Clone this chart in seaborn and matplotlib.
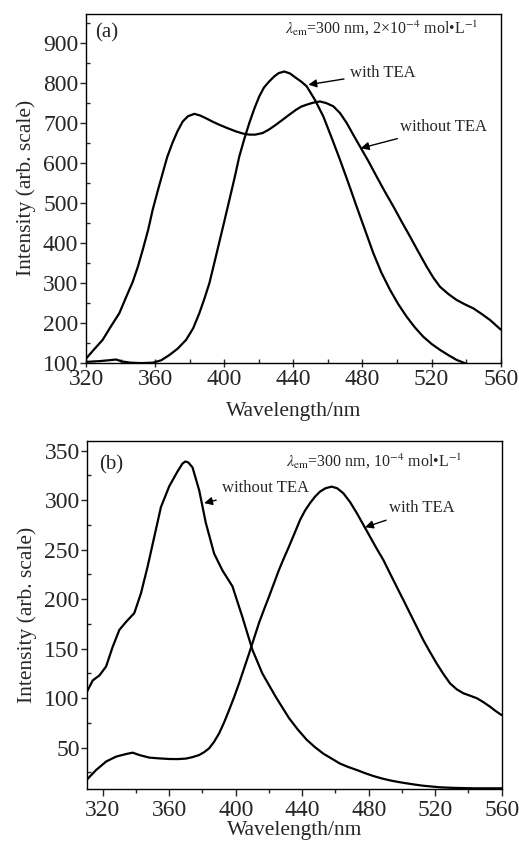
import pandas as pd
import seaborn as sns
import matplotlib.pyplot as plt
from matplotlib.ticker import MultipleLocator

# panel (a): excitation spectra, 2x10^-4 mol/L
a_without_x = [320, 324, 329.6, 334, 339.3, 343, 347, 350, 352.8, 356, 358.6, 361.5, 364.4, 367,
               370, 373, 376, 379, 382.7, 386, 389.4, 393, 397, 402, 406.8, 410.5, 414.5, 418,
               422.2, 426, 430, 434, 437.7, 441.5, 444.5, 447.7, 451.5, 455.4, 459, 463.1,
               467, 470.9, 474.5, 478.6, 483.5, 488.2, 493, 497.9, 502.7, 507.5, 512.3, 517.2,
               521, 524.9, 529.7, 534.5, 539.3, 544.2, 549, 553.8, 560]
a_without_y = [110, 130, 157, 188, 224, 262, 302, 340, 382, 433, 483, 530, 575, 615,
               650, 680, 704, 717, 723, 719, 712, 704, 696, 687, 679, 674, 671, 671,
               675, 684, 696, 709, 721, 733, 741, 746, 751, 754, 750, 742,
               725, 700, 672, 641, 604, 566, 528, 491, 453, 416, 378, 340,
               313, 290, 272, 257, 246, 236, 222, 207, 183]
a_with_x = [320, 328, 333, 337.4, 341, 346, 352, 358.6, 363.5, 368.2, 373, 377.9, 382, 385.6,
            388.5, 391.4, 394, 397, 400, 403, 406, 408.7, 411.6, 414.5, 417.5, 420.3, 423,
            426, 429, 431.5, 434.8, 438.1, 441.5, 444.5, 447.7, 452.5, 457.4, 462, 467,
            472, 476.6, 481.5, 486.3, 491, 496, 500.8, 505.6, 510.4, 515.2, 520, 524.9,
            529.7, 534.5, 538, 542, 546]
a_with_y = [102, 104, 106, 108, 103, 100, 99, 100, 106, 119, 135, 157, 186, 224,
            260, 299, 345, 399, 453, 508, 563, 616, 660, 700, 737, 767, 789,
            804, 817, 825, 829, 824, 813, 804, 792, 758, 716, 665, 608,
            548, 491, 432, 374, 325, 282, 246, 215, 188, 165, 147, 132,
            119, 107, 101, 94, 88]

# panel (b): excitation spectra, 10^-4 mol/L
b_without_x = [310, 314, 318, 322, 326, 330, 334, 339, 343, 347, 351, 355, 360, 365, 368, 369.7,
               371.5, 374, 378, 382, 387, 392, 398, 404, 410, 416, 424, 432, 437.5, 442.7, 447.7,
               452.7, 457.7, 462.7, 467.7, 472.8, 477.8, 482.8, 487.8, 492.8, 497.8,
               502.9, 507.9, 512.8, 517.9, 522.9, 530, 543, 560]
b_without_y = [105, 118, 123, 132, 152, 169, 177, 186, 206, 233, 263, 293, 314, 329, 337, 339,
               338, 333, 310, 277, 246, 229, 213, 182, 149, 125, 101.5, 80, 68, 58, 50.5,
               44, 39, 34, 30.5, 27.5, 24.3, 21.4, 19, 17, 15.4,
               14, 12.7, 11.6, 10.8, 10, 9.5, 9, 9]
b_with_x = [310, 316, 322, 328, 334, 338, 342, 348, 354, 360, 365, 370, 374, 378, 381, 384,
            387, 390, 393, 396, 399, 402, 405, 408, 411, 414, 417, 420, 423, 426, 429,
            432, 435.5, 438.7, 441.7, 444.7, 447.7, 450.7, 454, 457.7, 461, 464.7, 468.8,
            472.8, 476.8, 480.8, 484.8, 488.8, 492.8, 496.8, 500.8, 504.8, 508.8, 512.8,
            516.9, 520.9, 524.9, 528.9, 532.9, 536.9, 541, 545, 549, 553, 556, 559, 560]
b_with_y = [17, 27.5, 36, 41, 43.6, 45, 42.6, 40, 39.2, 38.6, 38.5, 39, 40.5, 42.6, 45.5, 49.4,
            56, 64.5, 75.5, 88, 101, 115, 130, 145, 160.5, 176, 189.5, 202.5, 216, 229.5, 241.5,
            253, 267, 280, 289.5, 297, 303.5, 308.6, 312, 313.6, 312, 307, 298,
            287, 275, 263, 251, 239.6, 226, 212.6, 199.3, 185.8, 172.3, 158.8,
            146.5, 135, 124.5, 115, 109, 105, 102.5, 100, 96, 91.4, 87.5, 84, 83]

sns.set_style('ticks')
plt.rcParams['font.family'] = ['Liberation Serif', 'DejaVu Serif']
plt.rcParams['mathtext.fontset'] = 'stix'

fig = plt.figure(figsize=(5.19, 8.41), dpi=100)
ax1 = fig.add_axes([86 / 519, 1 - 362.7 / 841, 414.7 / 519, 348.7 / 841])
ax2 = fig.add_axes([87.3 / 519, 1 - 789.3 / 841, 414.4 / 519, 348.6 / 841])

for ax, xs, ys in [(ax1, [a_without_x, a_with_x], [a_without_y, a_with_y]),
                   (ax2, [b_without_x, b_with_x], [b_without_y, b_with_y])]:
    for x, y in zip(xs, ys):
        df = pd.DataFrame({'x': x, 'y': y})
        sns.lineplot(data=df, x='x', y='y', ax=ax, color='black', lw=1.6,
                     sort=False, estimator=None)

ax1.set_xlim(320, 560)
ax1.set_ylim(100, 973)
ax1.xaxis.set_major_locator(MultipleLocator(40))
ax1.xaxis.set_minor_locator(MultipleLocator(20))
ax1.yaxis.set_major_locator(MultipleLocator(100))
ax1.yaxis.set_minor_locator(MultipleLocator(50))

ax2.set_xlim(310.7, 560)
ax2.set_ylim(8, 360)
ax2.set_xticks([320, 360, 400, 440, 480, 520, 560])
ax2.set_xticks([340, 380, 420, 460, 500, 540], minor=True)
ax2.yaxis.set_major_locator(MultipleLocator(50))
ax2.yaxis.set_minor_locator(MultipleLocator(25))

for ax in (ax1, ax2):
    ax.set_ylabel('Intensity (arb. scale)', fontsize=15.5, labelpad=5)
    ax.tick_params(which='major', direction='out', length=4, width=1, labelsize=17, pad=1.5)
    ax.tick_params(which='minor', direction='in', length=3, width=1)
    for s in ax.spines.values():
        s.set_linewidth(1.0)
        s.set_color('black')

ax1.set_xlabel('Wavelength/nm', fontsize=15.5, labelpad=9)
ax1.tick_params(axis='x', which='major', direction='inout', length=6)
ax2.set_xlabel('Wavelength/nm', fontsize=15.5, labelpad=0)
ax2.tick_params(axis='x', which='major', length=5, pad=3)
ax2.tick_params(axis='x', which='minor', direction='out', length=3)

ax1.text(0.022, 0.945, '(a)', transform=ax1.transAxes, fontsize=15, va='center')
ax1.text(0.946, 0.959, r'$\lambda_{\rm em}$=300 nm, 2×10$^{-4}$ mol•L$^{-1}$',
         transform=ax1.transAxes, fontsize=11.5, ha='right', va='center')
ax1.annotate('with TEA', xy=(448.7, 796), xytext=(472.8, 826), fontsize=12, va='center',
             arrowprops=dict(arrowstyle='-|>', color='black', lw=1, shrinkA=2, shrinkB=0))
ax1.annotate('without TEA', xy=(479, 637), xytext=(501.5, 691), fontsize=12, va='center',
             arrowprops=dict(arrowstyle='-|>', color='black', lw=1, shrinkA=2, shrinkB=0))

ax2.text(0.029, 0.93, '(b)', transform=ax2.transAxes, fontsize=15, va='center')
ax2.text(0.904, 0.94, r'$\lambda_{\rm em}$=300 nm, 10$^{-4}$ mol•L$^{-1}$',
         transform=ax2.transAxes, fontsize=11.5, ha='right', va='center')
ax2.annotate('without TEA', xy=(381, 297), xytext=(391.5, 312), fontsize=12, va='center',
             arrowprops=dict(arrowstyle='-|>', color='black', lw=1, shrinkA=2, shrinkB=0))
ax2.annotate('with TEA', xy=(477.8, 272.6), xytext=(492.5, 292), fontsize=12, va='center',
             arrowprops=dict(arrowstyle='-|>', color='black', lw=1, shrinkA=2, shrinkB=0))

fig.savefig('out.png', dpi=100)
